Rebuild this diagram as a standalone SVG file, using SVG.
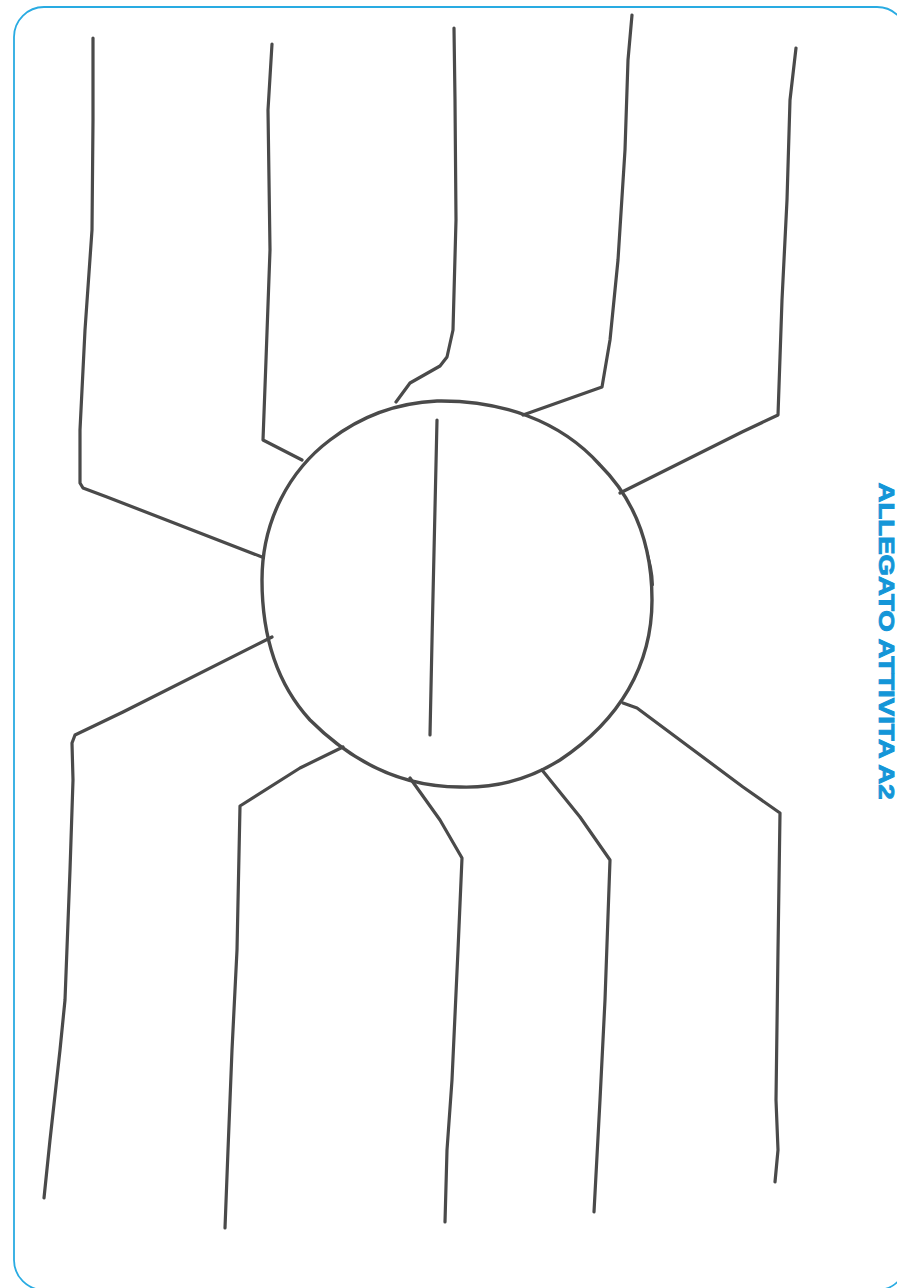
<svg xmlns="http://www.w3.org/2000/svg" width="897" height="1288" viewBox="0 0 897 1288">
<style>
.frame{fill:none;stroke:#29abe2;stroke-width:1.8}
.ink{fill:none;stroke:#4a4a4a;stroke-width:3.2;stroke-linecap:round;stroke-linejoin:round}
.title{font-family:"Liberation Sans",Arial,sans-serif;font-weight:bold;font-size:22px;fill:#1496d8;stroke:#1496d8;stroke-width:0.9}
</style>
<rect class="frame" x="14" y="7" width="893" height="1283" rx="30" ry="30"/>
<text class="title" transform="translate(879,641) rotate(90)" text-anchor="middle" textLength="317" lengthAdjust="spacingAndGlyphs">ALLEGATO ATTIVITA A2</text>
<g id="centre">
<path class="ink" d="M437,401 C500,400 560,420 600,465 C635,500 652,545 652,600 C652,665 620,720 560,760 C525,782 490,788 460,787 C400,787 350,760 310,720 C278,685 262,640 262,580 C262,520 290,470 330,440 C360,417 395,403 437,401 Z" style="stroke-width:3.4"/>
<path class="ink" d="M645,545 C650,560 653,572 653,585" style="stroke-width:2"/>
<path class="ink" d="M437,420 C435,520 432,630 430,735"/>
</g>
<g id="connectors">
<path id="leg1" class="ink" d="M93,38 L93,120 L92,230 L85,330 L80,430 L80,483 L83,488 L107,497 L262,557"/>
<path id="leg2" class="ink" d="M272,44 L268,110 L270,250 L266,360 L263,440 L302,460"/>
<path id="leg3" class="ink" d="M454,28 L455,100 L456,220 L453,330 L447,357 L440,366 L410,383 L396,402"/>
<path id="leg4" class="ink" d="M632,15 L628,60 L625,150 L618,260 L610,340 L602,387 L523,415"/>
<path id="leg5" class="ink" d="M796,48 L790,100 L787,200 L782,300 L778,415 L742,432 L620,493"/>
<path id="leg6" class="ink" d="M272,637 L123,712 L75,735 L72,743 L73,780 L70,870 L65,1000 L60,1050 L50,1140 L44,1198"/>
<path id="leg7" class="ink" d="M343,747 L300,768 L240,806 L237,950 L232,1050 L228,1150 L225,1228"/>
<path id="leg8" class="ink" d="M410,778 L440,820 L462,858 L458,950 L452,1080 L447,1150 L445,1222"/>
<path id="leg9" class="ink" d="M542,770 L580,817 L610,860 L605,1000 L600,1100 L594,1212"/>
<path id="leg10" class="ink" d="M623,703 L637,708 L743,787 L780,813 L778,950 L776,1100 L778,1150 L775,1182"/>
</g>
</svg>
